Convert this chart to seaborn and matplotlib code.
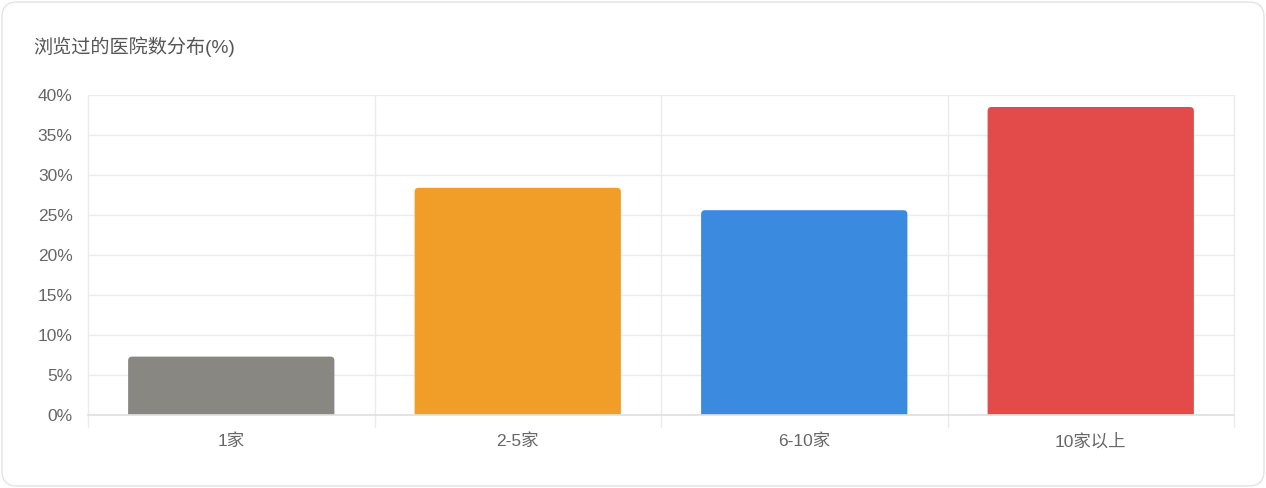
import matplotlib
matplotlib.use('Agg')
import matplotlib.pyplot as plt
import seaborn as sns
import pandas as pd
from matplotlib.patches import FancyBboxPatch
from matplotlib.ticker import MultipleLocator, FuncFormatter

# data
categories = ['1家', '2-5家', '6-10家', '10家以上']
values = [7.3, 28.4, 25.6, 38.5]
colors = ['#898782', '#F09E28', '#3A8ADF', '#E34B4B']

df = pd.DataFrame({'cat': categories, 'pct': values})

sns.set_theme(style='white')
fonts = ['Liberation Sans', 'Noto Sans CJK SC', 'DejaVu Sans']
plt.rcParams['font.family'] = fonts

fig = plt.figure(figsize=(12.66, 4.88), dpi=100)
ax = fig.add_axes([88 / 1266, 1 - 415 / 488, (1234 - 88) / 1266, (415 - 95) / 488])

sns.barplot(x='cat', y='pct', data=df, hue='cat', palette=colors, legend=False,
            width=0.72, saturation=1, ax=ax)

# swap the square bars for ones with rounded tops
px_x = (1234 - 88) / 4
px_y = 320 / 40
r = 4 / px_x
for p in list(ax.patches):
    x0, w, h = p.get_x(), p.get_width(), p.get_height()
    fc = p.get_facecolor()
    p.remove()
    rb = FancyBboxPatch((x0, -1), w, h + 1,
                        boxstyle=f'round,pad=0,rounding_size={r}',
                        mutation_aspect=(4 / px_y) / r,
                        facecolor=fc, edgecolor='none', zorder=2)
    ax.add_patch(rb)

ax.set_ylim(0, 40)
ax.set_xlim(-0.5, 3.5)
ax.yaxis.set_major_locator(MultipleLocator(5))
ax.yaxis.set_major_formatter(FuncFormatter(lambda v, p: f'{v:.0f}%'))
ax.grid(axis='y', color='#ebebeb', linewidth=1)
ax.set_axisbelow(True)
# vertical grid lines between categories
for xv in [-0.5, 0.5, 1.5, 2.5, 3.5]:
    ax.axvline(xv, ymin=-12 / 320, ymax=1, color='#ebebeb', linewidth=1, clip_on=False, zorder=0)
for s in ['top', 'right', 'left']:
    ax.spines[s].set_visible(False)
ax.spines['bottom'].set_color('#e0e0e0')
ax.tick_params(axis='both', length=0, labelsize=12.5, colors='#666666')
ax.tick_params(axis='y', pad=11)
ax.tick_params(axis='x', pad=13)
ax.set_xlabel('')
ax.set_ylabel('')

fig.text(33 / 1266, 1 - 47 / 488, '浏览过的医院数分布(%)', fontsize=13.8, color='#555555',
         va='center', ha='left')

# card border
card = FancyBboxPatch((2 / 1266, 2 / 488), 1262 / 1266, 484 / 488,
                      boxstyle='round,pad=0,rounding_size=0.012',
                      transform=fig.transFigure, facecolor='none',
                      edgecolor='#e3e3e3', linewidth=1, mutation_aspect=1266 / 488)
fig.patches.append(card)

fig.savefig('out.png', dpi=100, facecolor='white')
